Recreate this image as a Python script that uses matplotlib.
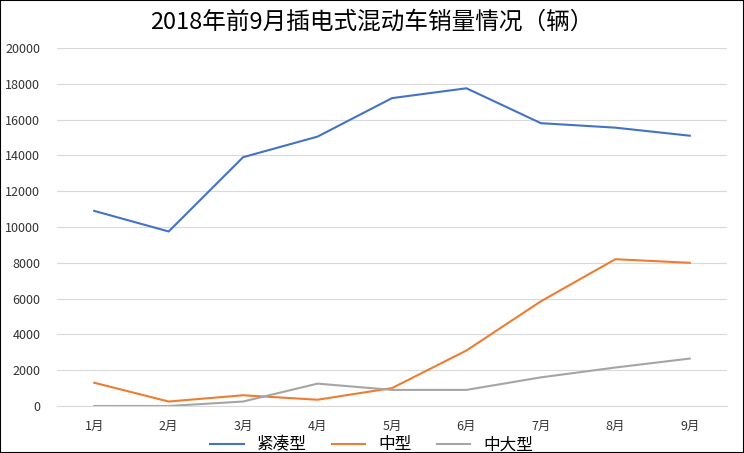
import matplotlib.pyplot as plt

plt.rcParams['font.family'] = 'sans-serif'
plt.rcParams['font.sans-serif'] = ['Noto Sans CJK SC', 'Noto Sans CJK JP', 'DejaVu Sans']

months = ['1月', '2月', '3月', '4月', '5月', '6月', '7月', '8月', '9月']
compact = [10900, 9750, 13900, 15050, 17200, 17750, 15800, 15550, 15100]
midsize = [1300, 250, 600, 350, 1000, 3100, 5850, 8200, 8000]
midlarge = [0, 0, 250, 1250, 900, 900, 1600, 2150, 2650]

fig = plt.figure(figsize=(7.44, 4.53), dpi=100)
ax = fig.add_axes([57/744, 1-406/453, 670/744, 358/453])
x = range(len(months))
ax.plot(x, compact, color='#4472C4', lw=1.5, label='紧凑型')
ax.plot(x, midsize, color='#ED7D31', lw=1.5, label='中型')
ax.plot(x, midlarge, color='#A5A5A5', lw=1.5, label='中大型')

ax.set_xlim(-0.5, len(months) - 0.5)
ax.set_ylim(0, 20000)
ax.set_yticks(range(0, 20001, 2000))
ax.set_xticks(list(x))
ax.set_xticklabels(months)
ax.tick_params(length=0, labelsize=9, colors='#333333')
ax.tick_params(axis='y', pad=12)
ax.tick_params(axis='x', pad=10)
ax.grid(axis='y', color='#d9d9d9', lw=0.8)
ax.set_axisbelow(True)
for s in ['top', 'right', 'left']:
    ax.spines[s].set_visible(False)
ax.spines['bottom'].set_color('#d9d9d9')

fig.text(0.5, 1-22/453, '2018年前9月插电式混动车销量情况（辆）', ha='center', va='center', fontsize=17)
fig.legend(loc='center', bbox_to_anchor=(0.5, 8/453), ncol=3, frameon=False, fontsize=12,
           handlelength=2, columnspacing=1.5)
fig.patches.append(plt.Rectangle((0, 0), 1, 1, transform=fig.transFigure, fill=False, ec='black', lw=1.5))
fig.savefig('out.png', dpi=100)
